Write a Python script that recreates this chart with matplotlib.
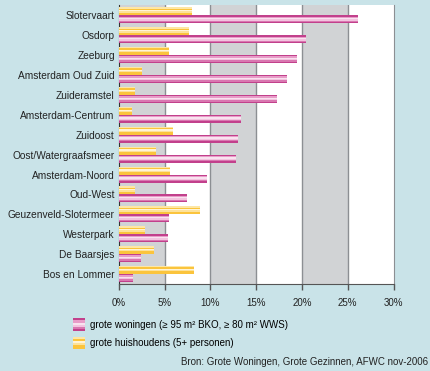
import matplotlib
matplotlib.use("Agg")
from matplotlib import pyplot as plt
from matplotlib.legend_handler import HandlerBase
from matplotlib.patches import Rectangle
import numpy as np

districts = ["Slotervaart", "Osdorp", "Zeeburg", "Amsterdam Oud Zuid", "Zuideramstel",
             "Amsterdam-Centrum", "Zuidoost", "Oost/Watergraafsmeer", "Amsterdam-Noord",
             "Oud-West", "Geuzenveld-Slotermeer", "Westerpark", "De Baarsjes", "Bos en Lommer"]
huishoudens = [8.0, 7.6, 5.5, 2.5, 1.8, 1.4, 5.9, 4.1, 5.6, 1.7, 8.9, 2.9, 3.8, 8.2]
woningen = [26.1, 20.4, 19.5, 18.4, 17.3, 13.3, 13.0, 12.8, 9.6, 7.4, 5.5, 5.4, 2.4, 1.5]
xticks = [0, 5, 10, 15, 20, 25, 30]

plt.rcParams["font.family"] = ["Liberation Sans", "DejaVu Sans"]

bg = "#c9e3e8"
pink_stripes = ["#c2408c", "#e89cc8", "#f9e2ef", "#f3c3df", "#d977b0", "#c2408c"]
yellow_stripes = ["#fde7a6", "#fbc43c", "#fff4d6", "#fde29a", "#fbc43c", "#fbc43c"]

fig = plt.figure(figsize=(4.31, 3.71), dpi=100, facecolor=bg)
ax = fig.add_axes([0.276, 0.2345, 0.637, 0.751])
ax.set_facecolor("white")

y = np.arange(len(districts))
bh = 0.4


def striped(ax, ypos, vals, stripes, top):
    n = len(stripes)
    sh = bh / n
    for k, c in enumerate(stripes):
        # stripes run top to bottom (y axis inverted)
        if top:
            yc = ypos - bh + sh * (k + 0.5)
        else:
            yc = ypos + sh * (k + 0.5)
        ax.barh(yc, vals, height=sh * 1.02, color=c, linewidth=0, zorder=3)


striped(ax, y, huishoudens, yellow_stripes, True)
striped(ax, y, woningen, pink_stripes, False)

for i in range(0, 30, 10):
    ax.axvspan(i, i + 5, color="#d1d3d5", zorder=0, linewidth=0)
for xv in xticks[1:-1]:
    ax.axvline(xv, color="#8c8f93", linewidth=1.0, zorder=1)

ax.set_xlim(0, 30)
ax.set_ylim(len(districts) - 0.5, -0.5)
ax.set_yticks(y)
ax.set_yticklabels(districts, fontsize=7.3, color="#222222")
ax.set_xticks(xticks)
ax.set_xticklabels([f"{v}%" for v in xticks], fontsize=7, color="#222222")
ax.tick_params(axis="y", length=0, pad=3)
ax.tick_params(axis="x", length=4, width=1, color="#555555", direction="out", pad=6)
ax.spines["top"].set_visible(False)
ax.spines["right"].set_color("#8c8f93")
ax.spines["left"].set_color("#333333")
ax.spines["bottom"].set_color("#555555")


class StripeHandler(HandlerBase):
    def __init__(self, stripes):
        super().__init__()
        self.stripes = stripes

    def create_artists(self, legend, orig_handle, xdescent, ydescent, width, height, fontsize, trans):
        n = len(self.stripes)
        arts = []
        for k, c in enumerate(self.stripes):
            r = Rectangle((-xdescent, -ydescent + height * (n - 1 - k) / n), width, height / n,
                          facecolor=c, edgecolor="none", transform=trans)
            arts.append(r)
        return arts


h1 = Rectangle((0, 0), 1, 1)
h2 = Rectangle((0, 0), 1, 1)
fig.legend([h1, h2],
           ["grote woningen (≥ 95 m² BKO, ≥ 80 m² WWS)", "grote huishoudens (5+ personen)"],
           handler_map={h1: StripeHandler(pink_stripes), h2: StripeHandler(yellow_stripes)},
           loc="upper left", bbox_to_anchor=(0.157, 0.155), frameon=False,
           fontsize=7, handlelength=1.3, handleheight=1.6, handletextpad=0.5,
           labelspacing=0.6, borderpad=0)

fig.text(0.993, 0.012, "Bron: Grote Woningen, Grote Gezinnen, AFWC nov-2006",
         ha="right", va="bottom", fontsize=7, color="#222222")

fig.savefig("out.png", dpi=100, facecolor=bg)
